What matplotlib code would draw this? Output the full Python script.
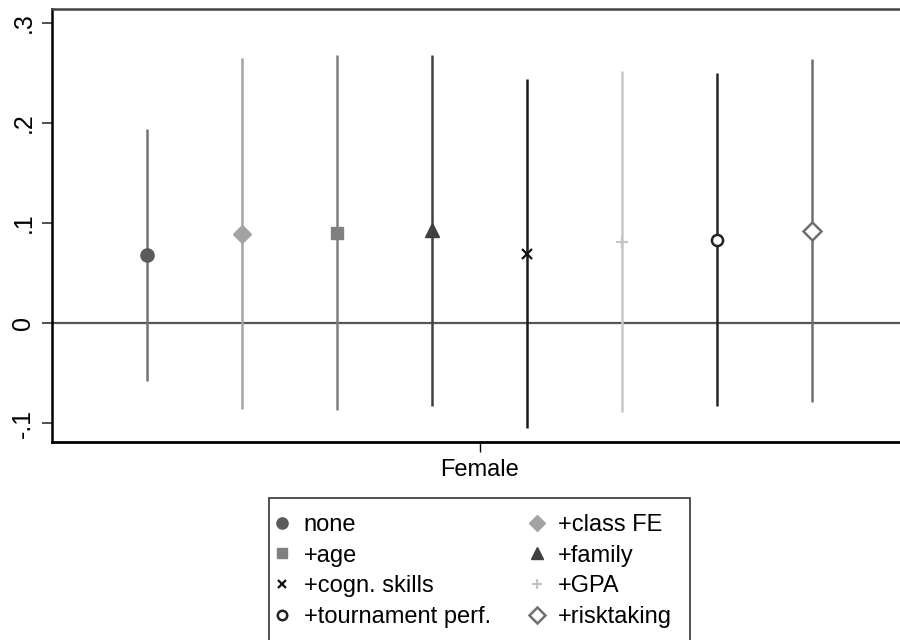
import numpy as np
import matplotlib.pyplot as plt
from matplotlib.patches import Rectangle

plt.rcParams["font.family"] = ["Liberation Sans", "DejaVu Sans"]

# Model specifications and estimates (coefficient on Female, 95% CI)
specs = ["none", "+class FE", "+age", "+family",
         "+cogn. skills", "+GPA", "+tournament perf.", "+risktaking"]
coefs = [0.068, 0.089, 0.090, 0.093, 0.069, 0.081, 0.083, 0.092]
ci_lo = [-0.058, -0.086, -0.087, -0.083, -0.105, -0.089, -0.083, -0.079]
ci_hi = [0.194, 0.265, 0.268, 0.268, 0.244, 0.252, 0.250, 0.264]
y_ticks = [-0.1, 0, 0.1, 0.2, 0.3]
y_tick_labels = ["-.1", "0", ".1", ".2", ".3"]
x_label = "Female"

# styles per spec
markers = ["o", "D", "s", "^", "x", "+", "o", "D"]
m_colors = ["#5b5b5b", "#a3a3a3", "#808080", "#404040",
            "#111111", "#c4c4c4", "#222222", "#707070"]
l_colors = ["#747474", "#a3a3a3", "#808080", "#404040",
            "#1a1a1a", "#c8c8c8", "#262626", "#707070"]
filled = [True, True, True, True, True, True, False, False]
m_sizes = [9.5, 9, 9, 9.5, 6.5, 8, 8, 9.5]

fig = plt.figure(figsize=(9, 6.4), dpi=100)
ax = fig.add_axes([52 / 900, 1 - 442 / 640, 1 - 52 / 900, 433 / 640])

pos = np.arange(len(specs))
handles = []
for i in range(len(specs)):
    ax.vlines(pos[i], ci_lo[i], ci_hi[i], color=l_colors[i], linewidth=1.8, zorder=2)
    face = m_colors[i] if filled[i] else "white"
    h, = ax.plot(pos[i], coefs[i], linestyle="none", marker=markers[i],
                 markersize=m_sizes[i], markerfacecolor=face,
                 markeredgecolor=m_colors[i],
                 markeredgewidth=1.0 if filled[i] else 1.8,
                 label=specs[i], zorder=3)
    if markers[i] in ("x", "+"):
        h.set_markeredgewidth(1.6)
    handles.append(h)

ax.axhline(0, color="#555555", linewidth=1.6, zorder=1)

ax.set_xlim(-1, 7.926)
ax.set_ylim(-0.119, 0.314)
ax.set_yticks(y_ticks)
ax.set_yticklabels(y_tick_labels, rotation=90, va="center", fontsize=18)
ax.set_xticks([np.mean(pos)])
ax.set_xticklabels([x_label], fontsize=17)
ax.tick_params(axis="y", length=7, width=1.2, color="#333333", pad=5)
ax.tick_params(axis="x", length=7, width=1.0, pad=5)

ax.spines["right"].set_visible(False)
ax.spines["top"].set_color("#444444")
ax.spines["top"].set_linewidth(1.8)
ax.spines["left"].set_linewidth(1.8)
ax.spines["bottom"].set_linewidth(2.0)

# legend, row-wise order like the original
order = [0, 2, 4, 6, 1, 3, 5, 7]
fig.legend([handles[k] for k in order], [specs[k] for k in order],
           loc="upper left", bbox_to_anchor=(261 / 900, 1 - 502 / 640),
           ncol=2, frameon=False, fontsize=17, borderpad=0, markerscale=0.85,
           handlelength=0.8, handletextpad=0.5, columnspacing=1.56,
           labelspacing=0.37)
fig.patches.append(Rectangle((269 / 900, -0.02), 421 / 900, 1 - 498 / 640 + 0.02,
                             transform=fig.transFigure, fill=False,
                             edgecolor="#333333", linewidth=1.2))

fig.savefig("out.png", dpi=100)
